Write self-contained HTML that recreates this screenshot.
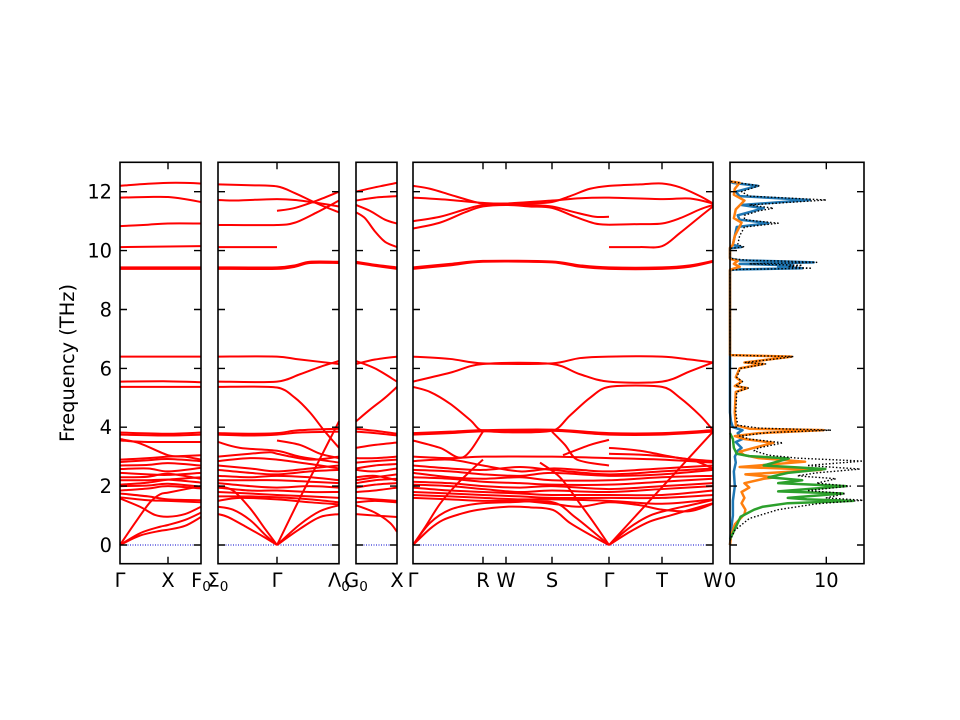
<!DOCTYPE html>
<html><head><meta charset="utf-8">
<style>
html,body{margin:0;padding:0;background:#fff;}
svg{display:block;}
.b polyline,.b path{fill:none;stroke:#ff0000;stroke-width:2;stroke-linejoin:round;vector-effect:non-scaling-stroke;}
.d polyline{fill:none;stroke-linejoin:round;vector-effect:non-scaling-stroke;}
text{font-family:"DejaVu Sans","Liberation Sans",sans-serif;font-size:19.4px;fill:#000;}
</style></head>
<body>
<svg width="960" height="720" viewBox="0 0 960 720" xmlns="http://www.w3.org/2000/svg">
<rect width="960" height="720" fill="#fff"/>

<!-- zero lines -->
<g stroke="#0000cc" stroke-width="1" stroke-dasharray="1,1.5">
<line x1="120" y1="545" x2="201" y2="545"/>
<line x1="218" y1="545" x2="339" y2="545"/>
<line x1="356" y1="545" x2="397" y2="545"/>
<line x1="413" y1="545" x2="713" y2="545"/>
</g>

<!-- bands -->
<g class="b" id="bands" transform="translate(0,545) scale(1,-29.44)">
<!-- panel 1 -->
<polyline points="120,12.2 148,12.27 168,12.3 185,12.3 201,12.28"/>
<polyline points="120,11.8 148,11.82 168,11.82 185,11.75 201,11.65"/>
<polyline points="120,10.83 148,10.88 168,10.92 201,10.92"/>
<polyline points="120,10.12 201,10.15"/>
<polyline points="120,9.43 201,9.43"/>
<polyline points="120,9.38 201,9.38"/>
<polyline points="120,6.4 201,6.4"/>
<polyline points="120,5.55 168,5.56 201,5.53"/>
<polyline points="120,5.37 201,5.37"/>
<polyline points="120,3.82 168,3.78 201,3.82"/>
<polyline points="120,3.75 168,3.72 201,3.75"/>
<polyline points="120,3.55 148,3.5 201,3.5"/>
<polyline points="120,3.6 140,3.45 168,3.05 185,3.0 201,2.9"/>
<polyline points="120,2.9 148,2.95 168,3.0 201,3.05"/>
<polyline points="120,2.82 148,2.88 168,2.92 201,2.85"/>
<polyline points="120,2.7 148,2.72 168,2.78 201,2.7"/>
<polyline points="120,2.58 148,2.6 168,2.5 201,2.62"/>
<polyline points="120,2.45 148,2.4 168,2.38 201,2.45"/>
<polyline points="120,2.3 148,2.32 168,2.42 201,2.25"/>
<polyline points="120,2.2 148,2.2 168,2.22 201,2.12"/>
<polyline points="120,2.05 148,2.12 168,2.22 201,2.3"/>
<polyline points="120,2.0 148,2.02 168,2.08 201,1.98"/>
<polyline points="120,1.85 148,1.92 168,2.0 201,1.92"/>
<polyline points="120,1.75 148,1.65 168,1.55 201,1.52"/>
<polyline points="120,1.62 148,1.52 168,1.5 201,1.45"/>
<polyline points="120,1.58 140,1.3 155,1.02 168,0.96 185,1.05 201,1.3"/>
<polyline points="120,0 135,0.75 150,1.45 160,1.72 168,1.78 201,2.0"/>
<polyline points="120,0 140,0.4 160,0.62 168,0.68 185,0.85 201,1.1"/>
<polyline points="120,0 140,0.32 160,0.48 168,0.52 185,0.65 201,0.95"/>

<!-- panel 2 -->
<polyline points="218,12.25 250,12.22 277,12.18 295,11.95 317,11.6 339,11.3"/>
<polyline points="218,11.72 235,11.7 250,11.72 277,11.75 295,11.72 317,11.62 339,11.5"/>
<polyline points="277,11.35 295,11.45 317,11.7 339,12.0"/>
<polyline points="218,10.87 277,10.87 295,10.95 317,11.3 339,11.7"/>
<polyline points="218,10.12 277,10.12"/>
<polyline points="218,9.43 277,9.43 295,9.5 310,9.62 339,9.62"/>
<polyline points="218,9.38 277,9.38 295,9.45 310,9.58 339,9.58"/>
<polyline points="218,6.4 277,6.4 300,6.3 339,6.15"/>
<polyline points="218,5.55 277,5.55 300,5.8 320,6.05 339,6.25"/>
<polyline points="218,5.37 277,5.35 295,5.0 310,4.5 325,3.85 339,3.3"/>
<polyline points="277,0 300,1.6 318,2.8 330,3.6 339,4.2"/>
<polyline points="218,3.8 250,3.78 277,3.8 300,3.9 339,3.95"/>
<polyline points="218,3.75 250,3.72 277,3.75 300,3.82 339,3.85"/>
<polyline points="277,3.55 300,3.4 320,3.1 339,2.95"/>
<polyline points="218,3.5 240,3.3 277,3.2 300,3.0 339,2.8"/>
<polyline points="218,3.0 250,3.1 270,3.15 277,3.1 310,2.9 339,3.0"/>
<polyline points="218,2.85 250,2.95 277,2.9 310,2.75 339,2.6"/>
<polyline points="218,2.7 250,2.6 277,2.5 310,2.6 339,2.7"/>
<polyline points="218,2.55 250,2.45 277,2.4 310,2.5 339,2.55"/>
<polyline points="218,2.35 250,2.3 277,2.35 310,2.3 339,2.2"/>
<polyline points="218,2.2 250,2.2 277,2.2 310,2.15 339,2.1"/>
<polyline points="218,2.1 250,2.0 277,1.95 310,2.0 339,1.95"/>
<polyline points="218,1.95 250,1.85 277,1.85 310,1.8 339,1.8"/>
<polyline points="218,1.8 250,1.75 277,1.7 310,1.65 339,1.6"/>
<polyline points="218,1.65 250,1.65 277,1.62 310,1.55 339,1.45"/>
<polyline points="218,1.5 240,1.6 277,1.55 310,1.45 339,1.38"/>
<polyline points="218,1.05 228,0.95 247,0.6 265,0.25 277,0"/>
<polyline points="218,1.3 233,1.2 250,0.85 265,0.35 277,0"/>
<polyline points="218,2.0 233,1.85 250,1.25 265,0.55 277,0"/>
<polyline points="277,0 300,0.55 320,0.95 339,1.05"/>
<polyline points="277,0 300,0.7 320,1.15 339,1.35"/>

<!-- panel 3 -->
<polyline points="356,12.0 375,12.15 397,12.3"/>
<polyline points="356,11.7 375,11.8 397,11.85"/>
<polyline points="356,11.55 370,11.35 385,11.05 397,10.92"/>
<polyline points="356,11.3 365,11.1 375,10.65 385,10.3 397,10.12"/>
<polyline points="356,9.62 375,9.52 397,9.43"/>
<polyline points="356,9.58 375,9.48 397,9.38"/>
<polyline points="356,6.15 375,6.3 397,6.4"/>
<polyline points="356,6.25 375,6.0 397,5.55"/>
<polyline points="356,4.2 370,4.6 385,5.0 397,5.37"/>
<polyline points="356,3.95 375,3.88 397,3.78"/>
<polyline points="356,3.85 375,3.8 397,3.72"/>
<polyline points="356,3.3 375,3.4 397,3.48"/>
<polyline points="356,2.95 375,2.95 397,3.0"/>
<polyline points="356,2.8 375,2.85 397,2.9"/>
<polyline points="356,2.6 375,2.7 397,2.75"/>
<polyline points="356,2.55 375,2.5 397,2.6"/>
<polyline points="356,2.3 375,2.35 397,2.2"/>
<polyline points="356,2.2 375,2.3 397,2.4"/>
<polyline points="356,2.1 375,2.2 397,2.25"/>
<polyline points="356,1.95 375,2.05 397,2.1"/>
<polyline points="356,1.8 375,1.85 397,1.95"/>
<polyline points="356,1.6 375,1.55 397,1.5"/>
<polyline points="356,1.45 375,1.5 397,1.45"/>
<polyline points="356,1.35 375,1.1 390,0.75 397,0.45"/>
<polyline points="356,1.05 375,1.0 397,0.95"/>

<!-- panel 4 -->
<polyline points="413,12.2 430,12.1 450,11.9 470,11.7 483,11.6 506,11.6 530,11.6 552,11.65 570,11.85 590,12.1 609,12.2 640,12.25 662,12.28 680,12.15 700,11.85 713,11.6"/>
<polyline points="413,11.8 450,11.72 483,11.62 506,11.6 552,11.7 580,11.78 609,11.8 662,11.75 690,11.77 713,11.6"/>
<polyline points="413,11.0 440,11.15 465,11.4 483,11.55 506,11.58 530,11.55 552,11.5 575,11.3 595,11.15 609,11.15"/>
<polyline points="413,10.75 440,10.95 465,11.3 483,11.5 506,11.55 530,11.5 552,11.45 575,11.15 595,10.92 609,10.88"/>
<polyline points="609,10.88 640,10.9 662,10.92 680,11.1 700,11.4 713,11.55"/>
<polyline points="609,10.12 640,10.12 662,10.15 680,10.6 700,11.15 713,11.5"/>
<polyline points="413,9.43 450,9.55 483,9.65 552,9.63 580,9.5 609,9.43 662,9.43 690,9.5 713,9.65"/>
<polyline points="413,9.38 450,9.5 483,9.62 552,9.6 580,9.45 609,9.38 662,9.38 690,9.45 713,9.62"/>
<polyline points="413,6.4 450,6.32 483,6.17 552,6.17 580,6.35 609,6.4 662,6.4 690,6.3 713,6.2"/>
<polyline points="413,5.55 450,5.85 483,6.15 552,6.15 580,5.8 609,5.55 662,5.55 690,5.9 713,6.2"/>
<polyline points="413,5.37 430,5.2 450,4.8 470,4.25 483,3.88 552,3.88 570,4.4 590,5.0 609,5.37 662,5.37 680,5.0 700,4.4 713,3.9"/>
<polyline points="413,3.8 450,3.85 483,3.9 552,3.92 609,3.8 662,3.8 713,3.9"/>
<polyline points="413,3.75 450,3.8 483,3.86 552,3.88 609,3.75 662,3.75 713,3.85"/>
<polyline points="413,3.55 440,3.3 463,2.98 483,3.85"/>
<polyline points="552,3.85 565,3.4 577,2.9 609,2.7"/>
<polyline points="563,3.05 590,3.4 609,3.57"/>
<polyline points="609,3.3 640,3.2 680,2.95 713,2.85"/>
<polyline points="609,3.1 650,3.05 690,2.9 713,2.6"/>
<polyline points="413,3.0 450,2.95 483,3.0 552,3.0 609,2.95 662,2.9 713,2.8"/>
<polyline points="413,2.85 450,2.9 483,2.7 520,2.5 552,2.6 580,2.55 609,2.5 662,2.6 713,2.7"/>
<polyline points="413,2.7 450,2.6 483,2.55 520,2.65 552,2.55 609,2.4 662,2.5 713,2.6"/>
<polyline points="413,2.55 450,2.5 483,2.4 520,2.35 552,2.45 609,2.35 662,2.4 713,2.55"/>
<polyline points="413,2.45 450,2.3 483,2.25 520,2.3 552,2.2 609,2.2 662,2.3 713,2.35"/>
<polyline points="413,2.3 450,2.25 483,2.15 520,2.1 552,2.05 609,2.05 662,2.15 713,2.25"/>
<polyline points="413,2.15 450,2.1 483,2.0 520,1.95 552,2.0 609,1.9 662,2.0 713,2.1"/>
<polyline points="413,2.05 450,2.0 483,1.9 520,1.8 552,1.85 609,1.8 662,1.9 713,2.0"/>
<polyline points="413,1.95 450,1.85 483,1.8 520,1.75 552,1.7 609,1.7 662,1.7 713,1.85"/>
<polyline points="413,1.8 450,1.75 483,1.7 520,1.65 552,1.6 609,1.6 662,1.6 713,1.7"/>
<polyline points="413,1.7 450,1.65 483,1.6 520,1.55 552,1.55 609,1.5 662,1.4 713,1.55"/>
<polyline points="413,1.6 450,1.55 483,1.5 520,1.5 552,1.4 580,1.3 609,1.45 640,1.35 662,1.2 690,1.15 713,1.4"/>
<polyline points="413,0 430,0.55 443,0.85 460,1.05 477,1.19 507,1.3 530,1.28 553,1.19 570,0.75 590,0.35 609,0"/>
<polyline points="413,0 430,0.75 450,1.2 477,1.4 507,1.45 553,1.45 575,0.95 595,0.4 609,0"/>
<polyline points="413,0 425,0.6 440,1.4 455,2.0 470,2.5 483,2.9"/>
<polyline points="540,2.8 560,2.3 580,1.4 595,0.7 609,0"/>
<polyline points="609,0 713,3.85"/>
<polyline points="609,0 630,0.45 650,0.8 670,1.0 690,1.2 713,1.42"/>
<polyline points="609,0 630,0.6 650,1.0 670,1.2 690,1.35 713,1.53"/>
</g>

<!-- DOS -->
<g class="d" transform="translate(730,545) scale(9.63,-29.44)">
<polyline stroke="#1f77b4" stroke-width="2.5" points="0,0 0.1,0.5 0.3,1.0 0.3,1.5 0.5,2.0 0.4,2.5 0.6,2.8 0.5,3.0 0.8,3.2 1.2,3.3 0.6,3.5 1.3,3.6 0.8,3.8 1.3,3.9 0.3,4.0 0.1,4.2 0,4.5 0,9.33 0.5,9.36 7.5,9.4 5,9.45 6.5,9.5 1,9.55 8.7,9.6 5,9.64 1.0,9.67 0.2,9.72 0,9.75 0,10.08 1.2,10.12 0.3,10.2 0.5,10.5 0.7,10.8 4.0,10.93 1.0,11.05 0.8,11.2 2.5,11.35 3.5,11.44 1.2,11.55 8.3,11.72 1.0,11.85 0.6,12.0 2.9,12.2 0.3,12.3 0,12.35"/>
<polyline stroke="#ff7f0e" stroke-width="2.5" points="0,0 0.1,0.3 0.5,0.7 1.5,1.05 1.6,1.2 1.2,1.42 1.5,1.6 1.2,1.8 2.0,1.95 1.5,2.1 3.5,2.25 4.7,2.3 1.6,2.4 9.5,2.55 1.0,2.65 7.8,2.83 3.0,2.95 1.5,3.05 1.0,3.17 2.5,3.3 4.5,3.47 1.5,3.6 0.5,3.7 3,3.8 9.7,3.9 2,3.95 0.6,4.07 0.5,4.5 0.6,5.2 1.8,5.33 0.5,5.4 1.2,5.55 0.6,5.7 1.0,6.0 3.5,6.15 1.5,6.2 4,6.3 6.4,6.4 0,6.45 0,9.35 1.0,9.45 0.4,9.55 0.8,9.65 0,9.72 0,10.1 0.3,10.2 0.5,10.5 1.2,10.95 0.4,11.1 0.6,11.4 1.5,11.7 0.4,11.9 0.5,12.1 1.0,12.3 0,12.35"/>
<polyline stroke="#2ca02c" stroke-width="2.5" points="0,0.2 0.3,0.4 1.1,0.96 2.5,1.2 3.4,1.3 6,1.42 12.8,1.5 8,1.55 6,1.6 11.7,1.75 5,1.82 12,2.0 5,2.1 7.5,2.2 4,2.3 6,2.45 9.9,2.58 3.5,2.7 6.1,2.94 2,3.02 0.7,3.1 0.4,3.3 0.3,3.6 0,3.8"/>
<polyline stroke="#000" stroke-width="1.4" stroke-dasharray="1.5,2" points="0,0.15 0.5,0.5 2,0.9 5,1.2 9,1.4 13.8,1.52 10,1.6 12,1.75 8,1.85 12.5,2.0 9,2.1 11,2.25 7,2.35 9,2.45 13.5,2.58 8,2.7 13.8,2.85 7,2.95 4,3.05 2.5,3.2 3,3.3 5.5,3.47 2,3.6 1,3.7 4,3.82 10.5,3.9 3,3.97 0.8,4.07 0.6,4.5 0.7,5.2 1.9,5.33 0.6,5.4 1.3,5.55 0.7,5.7 1.1,6.0 3.7,6.15 1.6,6.2 4.2,6.3 6.6,6.4 0,6.45 0,9.33 1,9.36 8.5,9.4 6,9.45 7.5,9.5 2,9.55 9.0,9.6 6,9.64 2,9.67 0.3,9.72 0,9.75 0,10.08 1.5,10.12 0.8,10.2 1,10.5 1.5,10.8 5,10.93 1.5,11.05 1.5,11.2 3,11.35 4.5,11.44 2,11.55 10,11.72 2,11.85 1.2,12.0 3,12.2 1,12.3 0,12.35"/>
</g>

<!-- frames -->
<g fill="none" stroke="#000" stroke-width="1.6">
<rect x="120" y="162.3" width="81" height="401.4"/>
<rect x="218" y="162.3" width="121" height="401.4"/>
<rect x="356" y="162.3" width="41" height="401.4"/>
<rect x="413" y="162.3" width="300" height="401.4"/>
<rect x="730" y="162.3" width="134" height="401.4"/>
</g>

<!-- ticks -->
<g stroke="#000" stroke-width="1.4">
<path d="
M120,545h7 M120,486.1h7 M120,427.2h7 M120,368.4h7 M120,309.5h7 M120,250.6h7 M120,191.7h7
M201,545h-7 M201,486.1h-7 M201,427.2h-7 M201,368.4h-7 M201,309.5h-7 M201,250.6h-7 M201,191.7h-7
M218,545h7 M218,486.1h7 M218,427.2h7 M218,368.4h7 M218,309.5h7 M218,250.6h7 M218,191.7h7
M339,545h-7 M339,486.1h-7 M339,427.2h-7 M339,368.4h-7 M339,309.5h-7 M339,250.6h-7 M339,191.7h-7
M356,545h7 M356,486.1h7 M356,427.2h7 M356,368.4h7 M356,309.5h7 M356,250.6h7 M356,191.7h7
M397,545h-7 M397,486.1h-7 M397,427.2h-7 M397,368.4h-7 M397,309.5h-7 M397,250.6h-7 M397,191.7h-7
M413,545h7 M413,486.1h7 M413,427.2h7 M413,368.4h7 M413,309.5h7 M413,250.6h7 M413,191.7h7
M713,545h-7 M713,486.1h-7 M713,427.2h-7 M713,368.4h-7 M713,309.5h-7 M713,250.6h-7 M713,191.7h-7
M730,545h7 M730,486.1h7 M730,427.2h7 M730,368.4h7 M730,309.5h7 M730,250.6h7 M730,191.7h7
M864,545h-7 M864,486.1h-7 M864,427.2h-7 M864,368.4h-7 M864,309.5h-7 M864,250.6h-7 M864,191.7h-7
M168,162.3v7 M168,563.7v-7
M277,162.3v7 M277,563.7v-7
M483,162.3v7 M483,563.7v-7
M506,162.3v7 M506,563.7v-7
M552,162.3v7 M552,563.7v-7
M609,162.3v7 M609,563.7v-7
M662,162.3v7 M662,563.7v-7
M826.3,162.3v7 M826.3,563.7v-7
"/>
</g>

<!-- y tick labels -->
<g text-anchor="end">
<text x="112" y="552">0</text>
<text x="112" y="493.1">2</text>
<text x="112" y="434.2">4</text>
<text x="112" y="375.4">6</text>
<text x="112" y="316.5">8</text>
<text x="112" y="257.6">10</text>
<text x="112" y="198.7">12</text>
</g>
<text transform="translate(74,363) rotate(-90)" text-anchor="middle">Frequency (THz)</text>

<!-- x tick labels -->
<g text-anchor="middle">
<text x="120" y="587">Γ</text>
<text x="168" y="587">X</text>
<text x="201" y="587">F<tspan font-size="13.6" dy="4">0</tspan></text>
<text x="218" y="587">Σ<tspan font-size="13.6" dy="4">0</tspan></text>
<text x="277" y="587">Γ</text>
<text x="339" y="587">Λ<tspan font-size="13.6" dy="4">0</tspan></text>
<text x="356" y="587">G<tspan font-size="13.6" dy="4">0</tspan></text>
<text x="397" y="587">X</text>
<text x="413" y="587">Γ</text>
<text x="483" y="587">R</text>
<text x="506" y="587">W</text>
<text x="552" y="587">S</text>
<text x="609" y="587">Γ</text>
<text x="662" y="587">T</text>
<text x="713" y="587">W</text>
<text x="730" y="587">0</text>
<text x="826.3" y="587">10</text>
</g>
</svg>
<script>
(function(){
  var g=document.getElementById('bands');
  if(!g) return;
  var pls=Array.prototype.slice.call(g.getElementsByTagName('polyline'));
  pls.forEach(function(pl){
    var raw=pl.getAttribute('points').trim().split(/\s+/).map(function(s){var a=s.split(',');return [parseFloat(a[0]),parseFloat(a[1])];});
    if(raw.length<3) return;
    var d='M'+raw[0][0]+','+raw[0][1];
    for(var i=0;i<raw.length-1;i++){
      var p0=raw[i>0?i-1:i],p1=raw[i],p2=raw[i+1],p3=raw[i+2<raw.length?i+2:i+1];
      var dx=p2[0]-p1[0];
      var t1x=(p2[0]-p0[0])/6,t1y=(p2[1]-p0[1])/6;
      var t2x=(p3[0]-p1[0])/6,t2y=(p3[1]-p1[1])/6;
      var lim=0.45*Math.abs(dx);
      if(Math.abs(t1x)>lim&&t1x!==0){var f=lim/Math.abs(t1x);t1x*=f;t1y*=f;}
      if(Math.abs(t2x)>lim&&t2x!==0){var f2=lim/Math.abs(t2x);t2x*=f2;t2y*=f2;}
      d+=' C'+(p1[0]+t1x)+','+(p1[1]+t1y)+' '+(p2[0]-t2x)+','+(p2[1]-t2y)+' '+p2[0]+','+p2[1];
    }
    var path=document.createElementNS('http://www.w3.org/2000/svg','path');
    path.setAttribute('d',d);
    pl.parentNode.replaceChild(path,pl);
  });
})();
</script>
</body></html>
